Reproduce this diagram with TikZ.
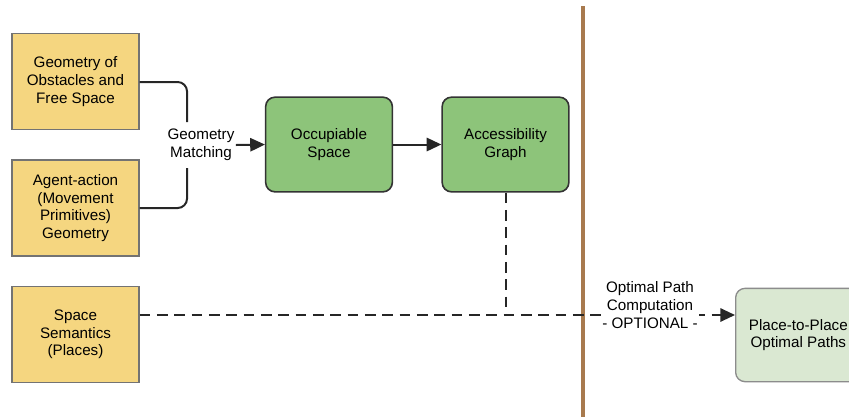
\documentclass[tikz,border=0pt]{standalone}
\usepackage{fontspec}
\setmainfont{Liberation Sans}
\usetikzlibrary{arrows.meta}

\definecolor{inputyellow}{HTML}{F5D680}
\definecolor{stepgreen}{HTML}{8DC47A}
\definecolor{optgreen}{HTML}{DAE8D2}
\definecolor{dividebrown}{HTML}{A87A4E}

\begin{document}
\begin{tikzpicture}[x=0.75pt, y=-0.75pt, >={Triangle[length=11pt,width=10pt]},
    font=\fontsize{11.4}{13.2}\selectfont,
    inbox/.style={draw=black!55, line width=1.2pt, fill=inputyellow, align=center,
      minimum width=95pt, minimum height=72pt},
    stepbox/.style={draw=black!80, line width=1.2pt, fill=stepgreen, rounded corners=7pt,
      align=center, minimum width=95pt, minimum height=71pt},
    optbox/.style={draw=black!45, line width=1pt, fill=optgreen, rounded corners=7pt,
      align=center, minimum width=94pt, minimum height=70pt},
    link/.style={line width=1.5pt, black!85},
    lbl/.style={fill=white, inner sep=1pt, align=center}]
        \useasboundingbox (0,0) rectangle (849,419);
        % inputs
        \node[inbox] (geo) at (75.5, 81.5) {Geometry of\\Obstacles and\\Free Space};
        \node[inbox] (act) at (75.5, 208) {Agent-action\\(Movement\\Primitives)\\Geometry};
        \node[inbox] (sem) at (75.5, 334.5) {Space\\Semantics\\(Places)};
        % processing steps
        \node[stepbox] (occ) at (329, 144.5) {Occupiable\\Space};
        \node[stepbox] (acc) at (505.5, 144.5) {Accessibility\\Graph};
        \node[optbox, anchor=west] (p2p) at (735, 335) {Place-to-Place\\Optimal Paths};
        % divider
        \draw[dividebrown, line width=2.4pt] (583, 6) -- (583, 417);
        % geometry matching
        \node[lbl] (gm) at (201, 145) {Geometry\\Matching};
        \coordinate (jt) at (187, 122);
        \coordinate (jb) at (187, 168);
        \draw[link, rounded corners=7pt] (geo.east |- 0,82) -| (jt);
        \draw[link, rounded corners=7pt] (act.east) -| (jb);
        \draw[link, ->] (gm.east) -- (occ.west);
        \draw[link, ->] (occ.east) -- (acc.west);
        % optional path computation
        \coordinate (pin) at (735, 315);
        \draw[link, dashed, dash pattern=on 8pt off 5pt] (acc.south) -- (acc.south |- pin);
        \draw[link, dashed, dash pattern=on 8pt off 5pt, ->] (sem.east |- pin) -- (pin);
        \node[lbl] (opt) at (650, 305) {Optimal Path\\Computation\\- OPTIONAL -};
\end{tikzpicture}
\end{document}
